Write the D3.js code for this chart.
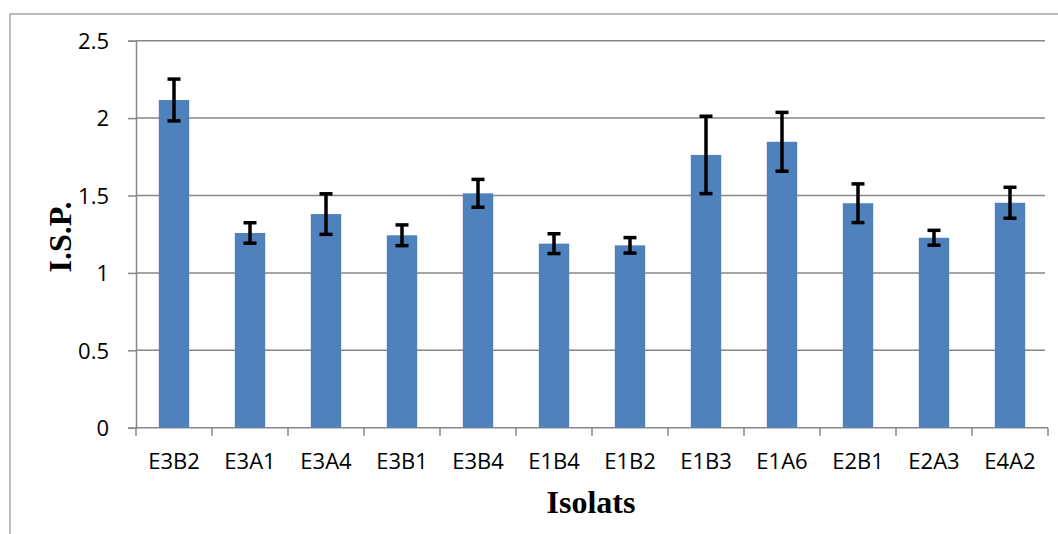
<!DOCTYPE html>
<html><head><meta charset="utf-8">
<script src="https://cdn.jsdelivr.net/npm/d3@7"></script>
<style>body{margin:0;background:#fff}svg{display:block}</style>
</head><body>
<svg id="c" width="1058" height="534"></svg>
<script>
const categories = ["E3B2","E3A1","E3A4","E3B1","E3B4","E1B4","E1B2","E1B3","E1A6","E2B1","E2A3","E4A2"];
const values = [2.117,1.258,1.38,1.243,1.514,1.189,1.178,1.762,1.847,1.45,1.227,1.453];
const errors = [0.135,0.066,0.131,0.067,0.09,0.064,0.05,0.25,0.19,0.125,0.048,0.1];
const yTicks = [0,0.5,1,1.5,2,2.5];
const yTitle = "I.S.P.";
const xTitle = "Isolats";

const svg = d3.select("#c");
const L = 136, R = 1048, T = 40.7, B = 427.7;
const x = d3.scaleBand().domain(categories).range([L, R]).paddingInner(0.6).paddingOuter(0.3);
const y = d3.scaleLinear().domain([0, 2.5]).range([B, T]);

// frame
svg.append("rect").attr("x",10).attr("y",14).attr("width",1200).attr("height",700)
  .attr("fill","none").attr("stroke","#a6a6a6").attr("stroke-width",1.5);

// gridlines
svg.append("g").selectAll("line").data(yTicks.filter(d=>d>0)).join("line")
  .attr("x1",L).attr("x2",1045).attr("y1",d=>y(d)).attr("y2",d=>y(d))
  .attr("stroke","#878787").attr("stroke-width",1.5);

// y axis
const ya = svg.append("g").attr("transform",`translate(${L},0)`)
  .call(d3.axisLeft(y).tickValues(yTicks).tickSize(8).tickPadding(19).tickFormat(d3.format("")));
ya.attr("font-size",null).attr("font-family",null);
ya.select(".domain").attr("stroke","#878787").attr("stroke-width",1.5);
ya.selectAll(".tick line").attr("stroke","#878787").attr("stroke-width",1.5);
ya.selectAll("text").style("font-family","Open Sans").style("font-size","22px").attr("fill","#000").attr("dy","0.35em");

// x axis
const xa = svg.append("g").attr("transform",`translate(0,${B})`)
  .call(d3.axisBottom(x).tickSize(0).tickPadding(26));
xa.attr("font-size",null).attr("font-family",null);
xa.select(".domain").attr("stroke","#878787").attr("stroke-width",1.5).attr("d",`M${L},0H${R}`);
xa.selectAll("text").style("font-family","Open Sans").style("font-size","22px").attr("fill","#000");
const bounds = d3.range(categories.length+1).map(i => L + i*x.step());
xa.append("g").selectAll("line").data(bounds).join("line")
  .attr("x1",d=>d).attr("x2",d=>d).attr("y1",0).attr("y2",8)
  .attr("stroke","#878787").attr("stroke-width",1.5);

// bars
svg.append("g").selectAll("rect").data(categories).join("rect")
  .attr("x",d=>x(d)).attr("width",x.bandwidth())
  .attr("y",(d,i)=>y(values[i])).attr("height",(d,i)=>y(0)-y(values[i]))
  .attr("fill","#4f81bd");

// error bars
const eg = svg.append("g").attr("stroke","#000").attr("stroke-width",3.5);
categories.forEach((c,i)=>{
  const cx = x(c)+x.bandwidth()/2;
  const y1 = y(values[i]+errors[i]), y2 = y(values[i]-errors[i]);
  eg.append("line").attr("x1",cx).attr("x2",cx).attr("y1",y1).attr("y2",y2);
  eg.append("line").attr("x1",cx-6.5).attr("x2",cx+6.5).attr("y1",y1).attr("y2",y1);
  eg.append("line").attr("x1",cx-6.5).attr("x2",cx+6.5).attr("y1",y2).attr("y2",y2);
});

// titles
svg.append("text").attr("transform","translate(71,237) rotate(-90)")
  .attr("text-anchor","middle").attr("font-family","Liberation Serif").attr("font-weight","bold")
  .attr("font-size",32).text(yTitle);
svg.append("text").attr("x",591).attr("y",513)
  .attr("text-anchor","middle").attr("font-family","Liberation Serif").attr("font-weight","bold")
  .attr("font-size",32).text(xTitle);
</script>
</body></html>
